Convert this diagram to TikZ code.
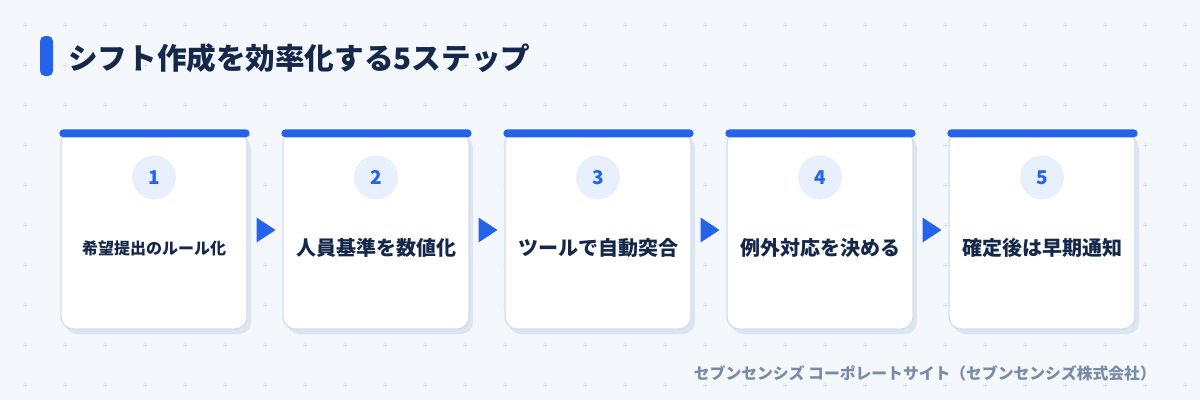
\documentclass[tikz,border=0pt]{standalone}
\usepackage{fontspec}
\setmainfont{Noto Sans CJK JP}
\usetikzlibrary{calc,positioning,shadows}

\definecolor{pagebg}{HTML}{F4F7FC}
\definecolor{gridc}{HTML}{DCE4EE}
\definecolor{stepblue}{HTML}{2563EB}
\definecolor{cardline}{HTML}{D2DEED}
\definecolor{shadowc}{HTML}{DCE6F2}
\definecolor{dotfill}{HTML}{E8F0FD}
\definecolor{inkdark}{HTML}{15284A}
\definecolor{footgray}{HTML}{7B8BA6}

\tikzset{
  card/.style={draw=cardline, line width=1.3pt, fill=white, rounded corners=12pt,
    minimum width=186pt, minimum height=198pt, inner sep=0pt,
    drop shadow={shadow xshift=4pt, shadow yshift=-5pt, fill=shadowc, opacity=1}},
  numdot/.style={circle, fill=dotfill, minimum size=44pt, inner sep=0pt,
    text=stepblue, font=\bfseries\fontsize{19}{19}\selectfont},
  steplabel/.style={text=inkdark, inner sep=0pt}
}

\begin{document}
\begin{tikzpicture}[x=1pt, y=-1pt]
  \useasboundingbox (0,0) rectangle (1200,400);
  \fill[pagebg] (0,0) rectangle (1200,400);

  % Dot grid
  \foreach \gx in {0,...,29}
    \foreach \gy in {0,...,9}
      \draw[gridc, line width=0.8pt] (25+40*\gx-2.5,25+40*\gy) -- (25+40*\gx+2.5,25+40*\gy)
        (25+40*\gx,25+40*\gy-2.5) -- (25+40*\gx,25+40*\gy+2.5);

  % Title
  \fill[stepblue, rounded corners=5pt] (40,36) rectangle (53,76);
  \node[anchor=west, text=inkdark, inner sep=0pt,
    font=\bfseries\fontsize{29.6}{29.6}\selectfont] (title) at (68,58) {シフト作成を効率化する5ステップ};

  % Step cards
  \foreach \i/\t/\s in {1/希望提出のルール化/16, 2/人員基準を数値化/20, 3/ツールで自動突合/20,
                        4/例外対応を決める/20, 5/確定後は早期通知/20}{
    \node[card] (card\i) at (154+222*\i-222,230) {};
    \fill[stepblue, rounded corners=4pt] ($(card\i.north west)+(-1,-1)$) rectangle ($(card\i.north east)+(2,7)$);
    \node[numdot] (num\i) at ($(card\i.north)+(0,47)$) {\i};
    \node[steplabel, font=\bfseries\fontsize{\s}{\s}\selectfont] (lab\i) at ($(card\i.north)+(0,118)$) {\t};
  }

  % Arrows
  \foreach \i [evaluate=\i as \j using int(\i+1)] in {1,...,4}{
    \coordinate (m\i) at ($(card\i.east)!0.5!(card\j.west)+(1,0)$);
    \fill[stepblue] ($(m\i)+(-9.5,-12.5)$) -- ($(m\i)+(9.5,0)$) -- ($(m\i)+(-9.5,12.5)$) -- cycle;
  }

  \node[anchor=east, text=footgray, inner sep=0pt,
    font=\bfseries\fontsize{15.8}{15.8}\selectfont] (source) at (1156,373)
    {セブンセンシズ コーポレートサイト（セブンセンシズ株式会社）};
\end{tikzpicture}
\end{document}
